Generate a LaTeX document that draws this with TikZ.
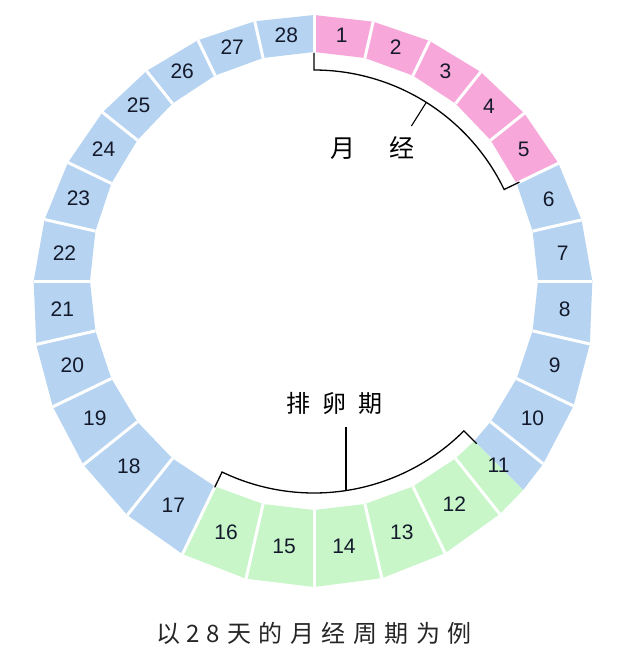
\documentclass[tikz,border=0pt]{standalone}
\usepackage{fontspec}
\setmainfont{Liberation Sans}
\newfontfamily\cjk{Noto Sans CJK SC}
\definecolor{segblue}{HTML}{B6D4F1}
\definecolor{segpink}{HTML}{F7A7D9}
\definecolor{seggreen}{HTML}{C8F6C9}
\definecolor{numtext}{HTML}{141A2C}
\newcommand\ringpts[2]{%
  \pgfmathsetmacro\ux{cos(#1)}%
  \pgfmathsetmacro\uy{-sin(#1)}%
  \pgfmathsetmacro\rin{1/sqrt((\ux)*(\ux)/(2.24*2.24)+(\uy)*(\uy)/(2.29*2.29))}%
  \pgfmathsetmacro\qa{(\ux)*(\ux)/(2.80*2.80)+(\uy)*(\uy)/(2.86*2.86)}%
  \pgfmathsetmacro\qb{2*(0.01*(\ux)/(2.80*2.80)-0.20*(\uy)/(2.86*2.86))}%
  \pgfmathsetmacro\qc{(0.01/2.80)*(0.01/2.80)+(0.20/2.86)*(0.20/2.86)-1}%
  \pgfmathsetmacro\rout{(-(\qb)+sqrt((\qb)*(\qb)-4*(\qa)*(\qc)))/(2*(\qa))}%
  \coordinate (I#2) at ({100*(3.14+\rin*(\ux))},{100*(2.81+\rin*(\uy))});
  \coordinate (O#2) at ({100*(3.14+\rout*(\ux))},{100*(2.81+\rout*(\uy))});
  \coordinate (M#2) at ({100*(3.14+0.5*(\rin+\rout)*(\ux))},{100*(2.81+0.5*(\rin+\rout)*(\uy))});
}
\begin{document}
\begin{tikzpicture}[x=1pt,y=-1pt,
  gap/.style={draw=white,line width=3pt},
  num/.style={font=\fontsize{21}{24}\selectfont,text=numtext,inner sep=0pt},
  brk/.style={draw=black,line width=1.3pt,line join=miter},
  cjklabel/.style={font=\cjk\fontsize{25}{28}\selectfont,text=black,inner sep=0pt},
  caption/.style={font=\cjk\fontsize{24}{28}\selectfont,text=black!85,inner sep=0pt}]
\useasboundingbox (0,0) rectangle (640,669);
\fill[white] (0,0) rectangle (640,669);
% boundary points
\foreach \k in {0,...,28}{
  \pgfmathsetmacro\th{90-\k*360/28}
  \ringpts{\th}{\k}
}
\ringpts{-45}{s}
% label anchor points (mid angles)
\foreach \k in {1,...,28}{
  \pgfmathsetmacro\th{90-(\k-0.5)*360/28}
  \ringpts{\th}{c\k}
}
% segment fills
\foreach \k [evaluate=\k as \j using int(\k-1)] in {1,...,5}
  {\fill[segpink] (I\j)--(O\j)--(O\k)--(I\k)--cycle;}
\foreach \k [evaluate=\k as \j using int(\k-1)] in {6,...,10,17,18,...,28}
  {\fill[segblue] (I\j)--(O\j)--(O\k)--(I\k)--cycle;}
\foreach \k [evaluate=\k as \j using int(\k-1)] in {12,...,16}
  {\fill[seggreen] (I\j)--(O\j)--(O\k)--(I\k)--cycle;}
\fill[segblue] (I10)--(O10)--(Os)--(Is)--cycle;
\fill[seggreen] (Is)--(Os)--(O11)--(I11)--cycle;
% white gaps
\foreach \k in {0,...,27}
  {\draw[gap] (I\k) -- (O\k);}
% numbers
\foreach \k in {1,...,28}
  {\node[num] (n\k) at (Mc\k) {\k};}
% menstruation bracket
\coordinate (mA) at (314,53);
\coordinate (mB) at ({314+228*cos(25.7)},{281-228*sin(25.7)});
\draw[brk] (mA) -- plot[domain=90:25.7,samples=50,smooth] ({314+211*cos(\x)},{281-211*sin(\x)}) -- (mB);
\coordinate (mP) at ({314+211*cos(57.85)},{281-211*sin(57.85)});
\coordinate (mQ) at ({314+183*cos(57.85)},{281-183*sin(57.85)});
\draw[brk,line width=1.1pt] (mP) -- (mQ);
\node[cjklabel] (lblM) at (372,148) {月\hspace{34pt}经};
% ovulation bracket
\coordinate (oA) at ({314+229*cos(244.3)},{281-229*sin(244.3)});
\coordinate (oB) at ({314+230*cos(315)},{281-230*sin(315)});
\draw[brk] (oA) -- plot[domain=244.3:315,samples=60,smooth] ({314+212*cos(\x)},{281-212*sin(\x)}) -- (oB);
\coordinate (oP) at (346,491);
\coordinate (oQ) at (346,427);
\draw[brk,line width=1.1pt] (oP) -- (oQ);
\node[cjklabel,font=\cjk\fontsize{24}{28}\selectfont] (lblO) at (334,403) {排\hspace{13pt}卵\hspace{11pt}期};
% caption
\node[caption] (cap) at (314,633) {以\hspace{6.5pt}2\hspace{6pt}8\hspace{7.5pt}天\hspace{7.5pt}的\hspace{7.5pt}月\hspace{7.5pt}经\hspace{7.5pt}周\hspace{7.5pt}期\hspace{7.5pt}为\hspace{7.5pt}例};
\end{tikzpicture}
\end{document}
